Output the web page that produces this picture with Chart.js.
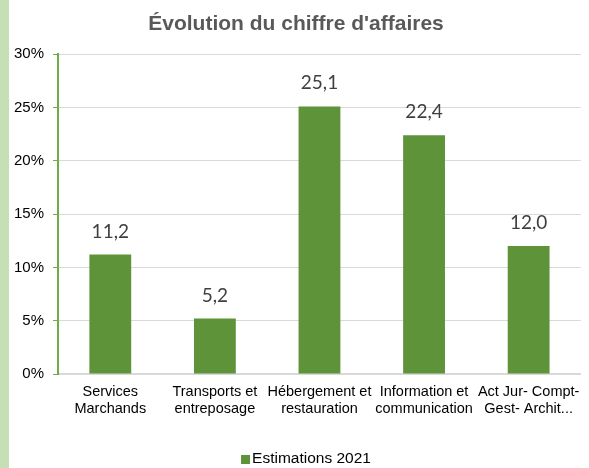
<!DOCTYPE html>
<html>
<head>
<meta charset="utf-8">
<script src="https://cdn.jsdelivr.net/npm/chart.js@4"></script>
<style>
  html, body { margin: 0; padding: 0; background: #ffffff; }
  #wrap {
    width: 580px;
    height: 468px;
    border-left: 9px solid #c5e0b4;
    position: relative;
  }
</style>
</head>
<body>
<div id="wrap"><canvas id="caChart" width="580" height="468"></canvas></div>
<script>
const categories = [
  ["Services", "Marchands"],
  ["Transports et", "entreposage"],
  ["Hébergement et", "restauration"],
  ["Information et", "communication"],
  ["Act Jur- Compt-", "Gest- Archit..."]
];
const estimations2021 = [11.2, 5.2, 25.1, 22.4, 12.0];
const yTicks = [0, 5, 10, 15, 20, 25, 30];

const barGreen = "#5f9339";

// value labels above each bar, French decimal comma
const valueLabels = {
  id: "valueLabels",
  afterDatasetsDraw(chart) {
    const ctx = chart.ctx;
    const meta = chart.getDatasetMeta(0);
    ctx.save();
    ctx.font = "19px Lato";
    ctx.fillStyle = "#404040";
    ctx.textAlign = "center";
    ctx.textBaseline = "alphabetic";
    meta.data.forEach((bar, i) => {
      const txt = estimations2021[i].toFixed(1).replace(".", ",");
      ctx.fillText(txt, bar.x, bar.y - 17);
    });
    ctx.restore();
  }
};

// Excel-like legend: small square sitting right next to the text
const bottomLegend = {
  id: "bottomLegend",
  afterDraw(chart) {
    const ctx = chart.ctx;
    const ds = chart.data.datasets[0];
    ctx.save();
    ctx.font = "15.5px 'Liberation Sans'";
    const tw = ctx.measureText(ds.label).width;
    const total = 9 + 2 + tw;
    const x0 = chart.width / 2 + 7 - total / 2;
    const yMid = 459;
    ctx.fillStyle = ds.backgroundColor;
    ctx.fillRect(x0, yMid - 4, 9, 9);
    ctx.fillStyle = "#000000";
    ctx.textAlign = "left";
    ctx.textBaseline = "middle";
    ctx.fillText(ds.label, x0 + 11, yMid);
    ctx.restore();
  }
};

new Chart(document.getElementById("caChart"), {
  type: "bar",
  data: {
    labels: categories,
    datasets: [
      {
        label: "Estimations 2021",
        data: estimations2021,
        backgroundColor: barGreen,
        categoryPercentage: 1,
        barPercentage: 0.4
      }
    ]
  },
  options: {
    responsive: false,
    animation: false,
    layout: {
      padding: { left: 0, right: 6, top: 0, bottom: 19.5 }
    },
    plugins: {
      title: {
        display: true,
        text: "Évolution du chiffre d'affaires",
        color: "#595959",
        font: { family: "Liberation Sans", size: 21, weight: "bold" },
        padding: { top: 12, bottom: 17 }
      },
      legend: { display: false },
      tooltip: { enabled: false }
    },
    scales: {
      x: {
        grid: { display: false, drawTicks: false },
        border: { color: "#d9d9d9", width: 2 },
        afterFit(scale) {
          scale.height = 74.5;
        },
        ticks: {
          color: "#000000",
          maxRotation: 0,
          autoSkip: false,
          font: { family: "Liberation Sans", size: 14.5 },
          padding: 9
        }
      },
      y: {
        min: 0,
        max: 30,
        afterBuildTicks(scale) {
          scale.ticks = yTicks.map(v => ({ value: v }));
        },
        afterFit(scale) {
          scale.width = 49;
        },
        grid: {
          color: "#d9d9d9",
          tickColor: "#70ad47",
          tickLength: 5
        },
        border: { color: "#70ad47", width: 2 },
        ticks: {
          color: "#000000",
          font: { family: "Liberation Sans", size: 15 },
          padding: 9,
          callback: v => v + "%"
        }
      }
    }
  },
  plugins: [valueLabels, bottomLegend]
});
</script>
</body>
</html>
